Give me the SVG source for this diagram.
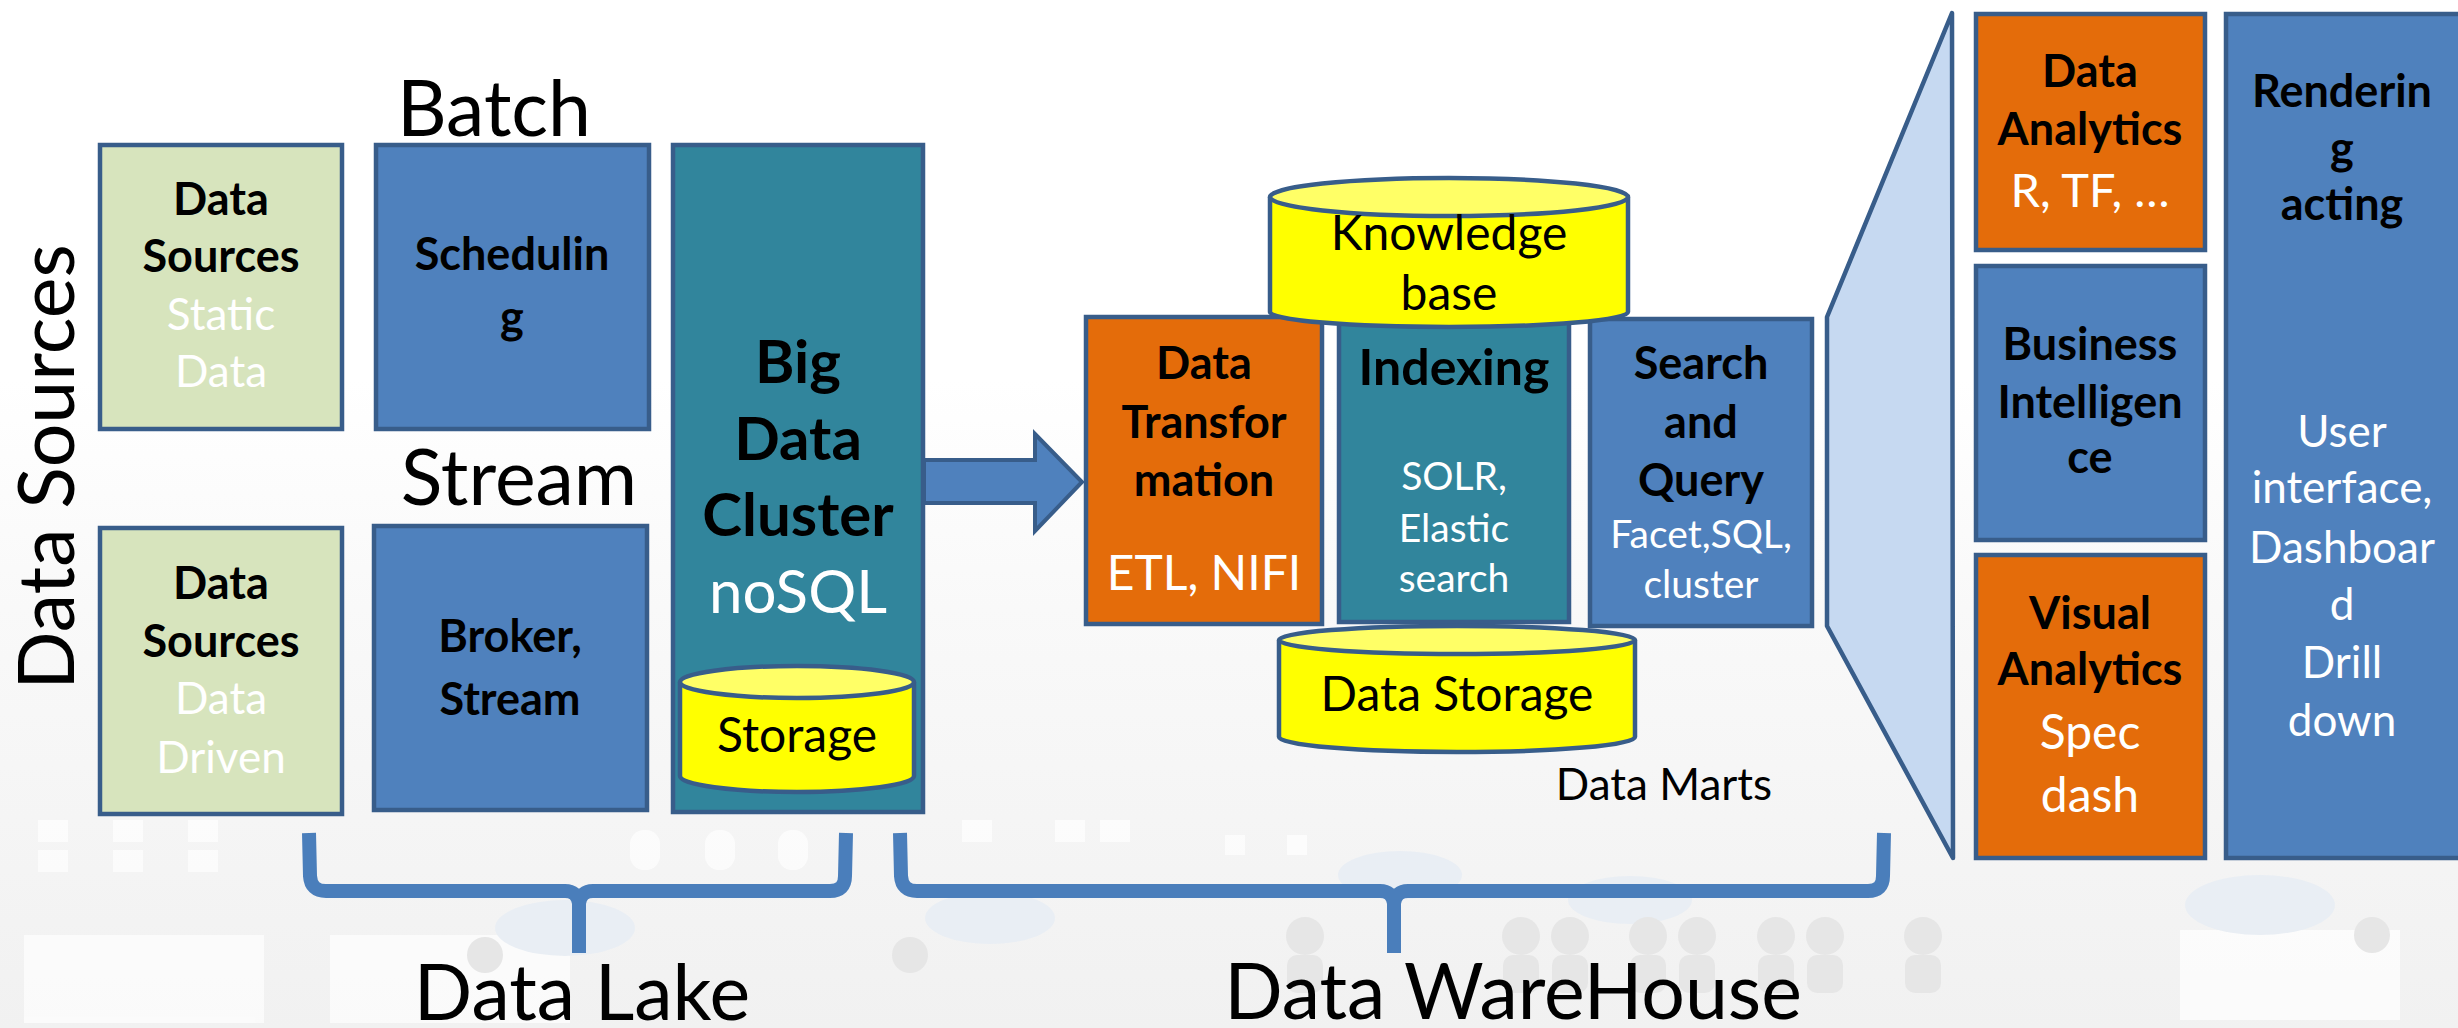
<svg xmlns="http://www.w3.org/2000/svg" width="2458" height="1028" viewBox="0 0 2458 1028">
<defs>
<style>
text{font-family:Lato,"Liberation Sans",sans-serif;text-anchor:middle}
.b{font-weight:700;fill:#000;font-size:45px}
.w{font-weight:400;fill:#fff;font-size:44px}
.k{font-weight:400;fill:#000}
.big{font-size:77px}
.c59{font-size:60px}
.c48{font-size:48px}
.c47{font-size:47px}
.c49{font-size:50px}
.c39{font-size:39px}
.box{stroke:#385d8a;stroke-width:4.5}
.green{fill:#d7e4bd}
.blue{fill:#4f81bd}
.teal{fill:#31859c}
.orange{fill:#e46c0a}
.cyl{fill:#ffff00;stroke:#385d8a;stroke-width:4.5}
.cyltop{fill:#ffff66;stroke:#385d8a;stroke-width:4.5}
.brace{fill:none;stroke:#4a7ebb;stroke-width:14;stroke-linejoin:round}
.bgw{fill:#ffffff}
.bgp{fill:#e6e6e6}
.bgc{fill:#e9eef4}
</style>
<linearGradient id="bg" x1="0" y1="0" x2="0" y2="1">
<stop offset="0" stop-color="#ffffff"/>
<stop offset="0.35" stop-color="#f9f9f9"/>
<stop offset="1" stop-color="#f1f1f1"/>
</linearGradient>
</defs>

<g id="background">
<rect x="0" y="0" width="2458" height="1028" fill="#ffffff"/>
<rect x="0" y="380" width="2458" height="648" fill="url(#bg)"/>
<g class="bgw" opacity="0.7">
<rect x="38" y="820" width="30" height="22"/><rect x="113" y="820" width="30" height="22"/><rect x="188" y="820" width="30" height="22"/>
<rect x="38" y="850" width="30" height="22"/><rect x="113" y="850" width="30" height="22"/><rect x="188" y="850" width="30" height="22"/>
<rect x="24" y="935" width="240" height="88"/>
<rect x="330" y="935" width="240" height="88"/>
<rect x="630" y="830" width="30" height="40" rx="14"/><rect x="705" y="830" width="30" height="40" rx="14"/><rect x="778" y="830" width="30" height="40" rx="14"/>
<rect x="962" y="820" width="30" height="22"/><rect x="1055" y="820" width="30" height="22"/><rect x="1100" y="820" width="30" height="22"/>
<rect x="1225" y="835" width="20" height="20"/><rect x="1287" y="835" width="20" height="20"/>
<rect x="2180" y="930" width="220" height="90"/>
</g>
<g class="bgc">
<ellipse cx="565" cy="928" rx="70" ry="28"/><ellipse cx="990" cy="918" rx="65" ry="26"/>
<ellipse cx="1400" cy="875" rx="62" ry="24"/><ellipse cx="1630" cy="900" rx="62" ry="24"/>
<ellipse cx="2260" cy="905" rx="75" ry="30"/>
</g>
<g class="bgp">
<circle cx="1305" cy="936" r="19"/><rect x="1287" y="955" width="36" height="38" rx="10"/>
<circle cx="1521" cy="936" r="19"/><rect x="1503" y="955" width="36" height="38" rx="10"/>
<circle cx="1570" cy="936" r="19"/><rect x="1552" y="955" width="36" height="38" rx="10"/>
<circle cx="1648" cy="936" r="19"/><rect x="1630" y="955" width="36" height="38" rx="10"/>
<circle cx="1697" cy="936" r="19"/><rect x="1679" y="955" width="36" height="38" rx="10"/>
<circle cx="1776" cy="936" r="19"/><rect x="1758" y="955" width="36" height="38" rx="10"/>
<circle cx="1825" cy="936" r="19"/><rect x="1807" y="955" width="36" height="38" rx="10"/>
<circle cx="1923" cy="936" r="19"/><rect x="1905" y="955" width="36" height="38" rx="10"/>
<circle cx="485" cy="955" r="18"/>
<circle cx="910" cy="955" r="18"/>
<circle cx="2372" cy="935" r="18"/>
</g>
</g>

<text class="k big" transform="translate(74,467) rotate(-90)">Data Sources</text>
<text class="k big" x="494" y="136">Batch</text>
<text class="k big" x="519" y="505">Stream</text>

<g id="connectors">
<path id="arrow" d="M924,460 L1035,460 L1035,434 L1082,482 L1035,531 L1035,503 L924,503 Z" fill="#4f81bd" stroke="#385d8a" stroke-width="4"/>
<path id="brace-lake" class="brace" d="M309,833 L310,876 Q311,891 326,891 L565,891 Q577,891 579,903 Q581,891 593,891 L830,891 Q845,891 845,876 L846,833 M579,903 L579,953"/>
<path id="brace-warehouse" class="brace" d="M900,833 L901,876 Q902,891 917,891 L1380,891 Q1392,891 1394,903 Q1396,891 1408,891 L1868,891 Q1883,891 1883,876 L1884,833 M1394,903 L1394,953"/>
</g>

<g id="ds-static">
<rect class="box green" x="100" y="145" width="242" height="284"/>
<text class="b" x="221" y="215">Data</text>
<text class="b" x="221" y="272">Sources</text>
<text class="w" x="221" y="330">Static</text>
<text class="w" x="221" y="387">Data</text>
</g>
<g id="ds-driven">
<rect class="box green" x="100" y="528" width="242" height="286"/>
<text class="b" x="221" y="599">Data</text>
<text class="b" x="221" y="657">Sources</text>
<text class="w" x="221" y="714">Data</text>
<text class="w" x="221" y="773">Driven</text>
</g>
<g id="scheduling">
<rect class="box blue" x="376" y="145" width="273" height="284"/>
<text class="b" x="512" y="270">Schedulin</text>
<text class="b" x="512" y="333">g</text>
</g>
<g id="broker">
<rect class="box blue" x="374" y="526" width="273" height="284"/>
<text class="b" x="510" y="652">Broker,</text>
<text class="b" x="510" y="715">Stream</text>
</g>
<g id="big-data-cluster">
<rect class="box teal" x="673" y="145" width="250" height="667"/>
<text class="b c59" x="798" y="383">Big</text>
<text class="b c59" x="798" y="460">Data</text>
<text class="b c59" x="798" y="536">Cluster</text>
<text class="w c59" x="798" y="613">noSQL</text>
<g id="storage">
<path class="cyl" d="M680,682 L680,776 A117,16 0 0 0 914,776 L914,682"/>
<ellipse class="cyltop" cx="797" cy="682" rx="117" ry="16"/>
<text class="k c48" x="797" y="752">Storage</text>
</g>
</g>

<g id="data-transformation">
<rect class="box orange" x="1086" y="317" width="236" height="307"/>
<text class="b" x="1204" y="379">Data</text>
<text class="b" x="1204" y="438">Transfor</text>
<text class="b" x="1204" y="496">mation</text>
<text class="w c48" x="1204" y="590">ETL, NIFI</text>
</g>
<g id="indexing">
<rect class="box teal" x="1339" y="300" width="230" height="322"/>
<text class="b c49" x="1454" y="385">Indexing</text>
<text class="w c39" x="1454" y="490">SOLR,</text>
<text class="w c39" x="1454" y="542">Elastic</text>
<text class="w c39" x="1454" y="592">search</text>
</g>
<g id="search-query">
<rect class="box blue" x="1590" y="319" width="222" height="307"/>
<text class="b" x="1701" y="379">Search</text>
<text class="b" x="1701" y="438">and</text>
<text class="b" x="1701" y="496">Query</text>
<text class="w c39" x="1701" y="548">Facet,SQL,</text>
<text class="w c39" x="1701" y="598">cluster</text>
</g>
<g id="knowledge-base">
<path class="cyl" d="M1270,197 L1270,312 A179,15 0 0 0 1628,312 L1628,197"/>
<ellipse class="cyltop" cx="1449" cy="197" rx="179" ry="19"/>
<text class="k c48" x="1449" y="250">Knowledge</text>
<text class="k c48" x="1449" y="310">base</text>
</g>
<g id="data-storage">
<path class="cyl" d="M1279,640 L1279,737 A178,15 0 0 0 1635,737 L1635,640"/>
<ellipse class="cyltop" cx="1457" cy="640" rx="178" ry="14"/>
<text class="k c48" x="1457" y="711">Data Storage</text>
</g>
<text class="k" x="1664" y="800" style="font-size:44px">Data Marts</text>

<g id="zoom-trapezoid">
<polygon points="1952,13 1953,858 1827,626 1827,317" fill="#c6d9f1" stroke="#385d8a" stroke-width="4.5" stroke-linejoin="round"/>
</g>
<g id="data-analytics">
<rect class="box orange" x="1976" y="14" width="229" height="236"/>
<text class="b" x="2090" y="87">Data</text>
<text class="b" x="2090" y="145">Analytics</text>
<text class="w c47" x="2090" y="207">R, TF, …</text>
</g>
<g id="business-intelligence">
<rect class="box blue" x="1976" y="266" width="229" height="274"/>
<text class="b" x="2090" y="360">Business</text>
<text class="b" x="2090" y="418">Intelligen</text>
<text class="b" x="2090" y="473">ce</text>
</g>
<g id="visual-analytics">
<rect class="box orange" x="1976" y="555" width="229" height="303"/>
<text class="b" x="2090" y="629">Visual</text>
<text class="b" x="2090" y="685">Analytics</text>
<text class="w c48" x="2090" y="749">Spec</text>
<text class="w c48" x="2090" y="812">dash</text>
</g>
<g id="rendering">
<rect class="box blue" x="2226" y="14" width="250" height="844"/>
<text class="b" x="2342" y="107">Renderin</text>
<text class="b" x="2342" y="164">g</text>
<text class="b" x="2342" y="220">acting</text>
<text class="w" x="2342" y="447">User</text>
<text class="w" x="2342" y="503">interface,</text>
<text class="w" x="2342" y="563">Dashboar</text>
<text class="w" x="2342" y="620">d</text>
<text class="w" x="2342" y="678">Drill</text>
<text class="w" x="2342" y="736">down</text>
</g>

<text class="k big" x="582" y="1020">Data Lake</text>
<text class="k big" x="1513" y="1019">Data WareHouse</text>
</svg>
